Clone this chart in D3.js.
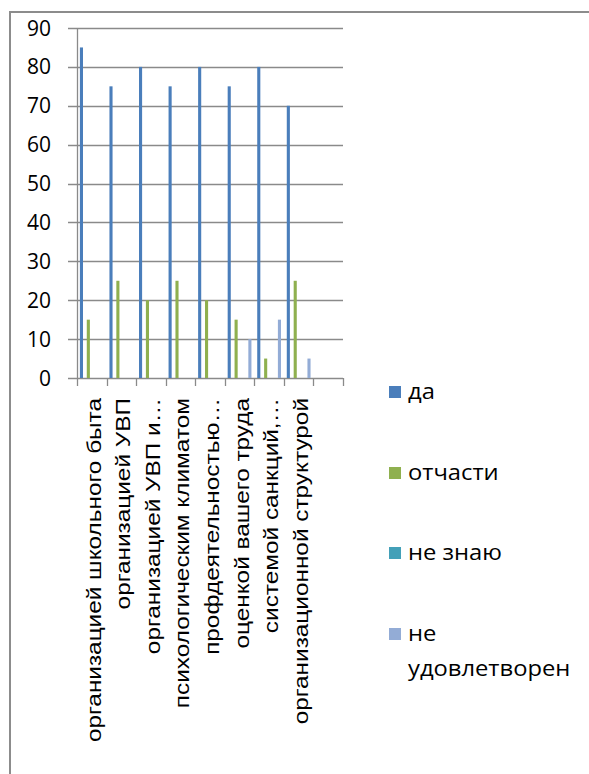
<!DOCTYPE html>
<meta charset="utf-8">
<style>

body { margin: 0; background: #fff; }

.grid line {
  stroke: #8a8a8a;
  stroke-width: 1.3px;
}

.ytick text {
  font-family: "Open Sans", sans-serif;
  font-size: 21px;
  fill: #000;
}

.xlabel {
  font-family: "Liberation Sans", Arial, sans-serif;
  font-size: 21px;
  fill: #000;
}

.legend text {
  font-family: "Open Sans", sans-serif;
  font-size: 22px;
  fill: #000;
}

</style>
<svg width="589" height="774"></svg>
<script src="https://cdnjs.cloudflare.com/ajax/libs/d3/7.8.5/d3.min.js"></script>
<script>

// Chart data
var categories = [
  "организацией школьного быта",
  "организацией УВП",
  "организацией УВП и…",
  "психологическим климатом",
  "профдеятельностью…",
  "оценкой вашего труда",
  "системой санкций,…",
  "организационной структурой",
  ""
];
var seriesNames = ["да", "отчасти", "не знаю", "не удовлетворен"];
var yes      = [85, 75, 80, 75, 80, 75, 80, 70, null];
var partly   = [15, 25, 20, 25, 20, 15, 5, 25, null];
var dontKnow = [0, 0, 0, 0, 0, 0, 0, 0, null];
var unhappy  = [0, 0, 0, 0, 0, 10, 15, 5, null];
var yTicks = [0, 10, 20, 30, 40, 50, 60, 70, 80, 90];

var seriesValues = [yes, partly, dontKnow, unhappy];
var colors = ["#4a7ebb", "#8fb04f", "#43a0b8", "#93acd6"];

var svg = d3.select("svg");

// Outer chart border (runs off the right and bottom of the picture)
svg.append("rect")
    .attr("x", 10)
    .attr("y", 12)
    .attr("width", 700)
    .attr("height", 900)
    .attr("fill", "none")
    .attr("stroke", "#8c8c8c")
    .attr("stroke-width", 2);

// Scales
var x0 = d3.scaleBand()
    .domain(d3.range(categories.length))
    .range([77, 343])
    .padding(0);

var x1 = d3.scaleBand()
    .domain(d3.range(seriesNames.length))
    .range([0, x0.bandwidth()])
    .paddingInner(0.55)
    .paddingOuter(0.42);

var y = d3.scaleLinear()
    .domain([0, 90])
    .range([378, 28]);

// Gridlines + left tick marks
var grid = svg.append("g")
    .attr("class", "grid");

grid.selectAll("line")
    .data(yTicks)
    .enter().append("line")
    .attr("x1", 68)
    .attr("x2", 343)
    .attr("y1", function(d) { return Math.round(y(d)) + 0.5; })
    .attr("y2", function(d) { return Math.round(y(d)) + 0.5; });

// Y axis line
grid.append("line")
    .attr("x1", 77.5).attr("x2", 77.5)
    .attr("y1", y(90)).attr("y2", y(0));

// X axis tick marks between categories
grid.selectAll(".xtick")
    .data(d3.range(categories.length + 1))
    .enter().append("line")
    .attr("class", "xtick")
    .attr("x1", function(i) { return Math.round(77 + i * x0.step()) + 0.5; })
    .attr("x2", function(i) { return Math.round(77 + i * x0.step()) + 0.5; })
    .attr("y1", y(0))
    .attr("y2", y(0) + 8);

// Y tick labels
svg.append("g")
    .attr("class", "ytick")
    .selectAll("text")
    .data(yTicks)
    .enter().append("text")
    .attr("x", 51)
    .attr("y", function(d) { return y(d); })
    .attr("dy", "0.36em")
    .attr("text-anchor", "end")
    .text(function(d) { return d; });

// Bars, one group per series
var bars = svg.append("g")
    .selectAll("g")
    .data(seriesValues)
    .enter().append("g")
    .attr("fill", function(d, i) { return colors[i]; });

bars.each(function(values, s) {
  d3.select(this).selectAll("rect")
      .data(values.map(function(v, c) { return {c: c, v: v}; }).filter(function(d) { return d.v != null; }))
      .enter().append("rect")
      .attr("x", function(d) { return x0(d.c) + x1(s); })
      .attr("width", x1.bandwidth())
      .attr("y", function(d) { return y(d.v); })
      .attr("height", function(d) { return y(0) - y(d.v); });
});

// Rotated category labels (stretched along the text like the original)
svg.append("g")
    .selectAll("text")
    .data(categories)
    .enter().append("text")
    .attr("class", "xlabel")
    .attr("text-anchor", "end")
    .attr("transform", function(d, i) {
      return "translate(" + (x0(i) + x0.bandwidth() / 2 + 9) + ",398) rotate(-90) scale(1.16,1)";
    })
    .text(function(d) { return d; });

// Legend
var legendY = [391, 472, 552, 633];
var legend = svg.append("g")
    .attr("class", "legend")
    .selectAll("g")
    .data(seriesNames)
    .enter().append("g")
    .attr("transform", function(d, i) { return "translate(389," + legendY[i] + ")"; });

legend.append("rect")
    .attr("x", 0)
    .attr("y", -5)
    .attr("width", 12)
    .attr("height", 12)
    .attr("fill", function(d, i) { return colors[i]; });

// legend text is a little wider than the font gives, so stretch it
legend.append("text")
    .attr("transform", "translate(19,8) scale(1.08,1)")
    .each(function(d) {
      var words = d.split(" ");
      var t = d3.select(this);
      if (words.length > 1 && d.length > 10) {
        t.append("tspan").attr("x", 0).text(words[0]);
        t.append("tspan").attr("x", 0).attr("dy", 35).text(words.slice(1).join(" "));
      } else {
        t.text(d);
      }
    });

</script>
